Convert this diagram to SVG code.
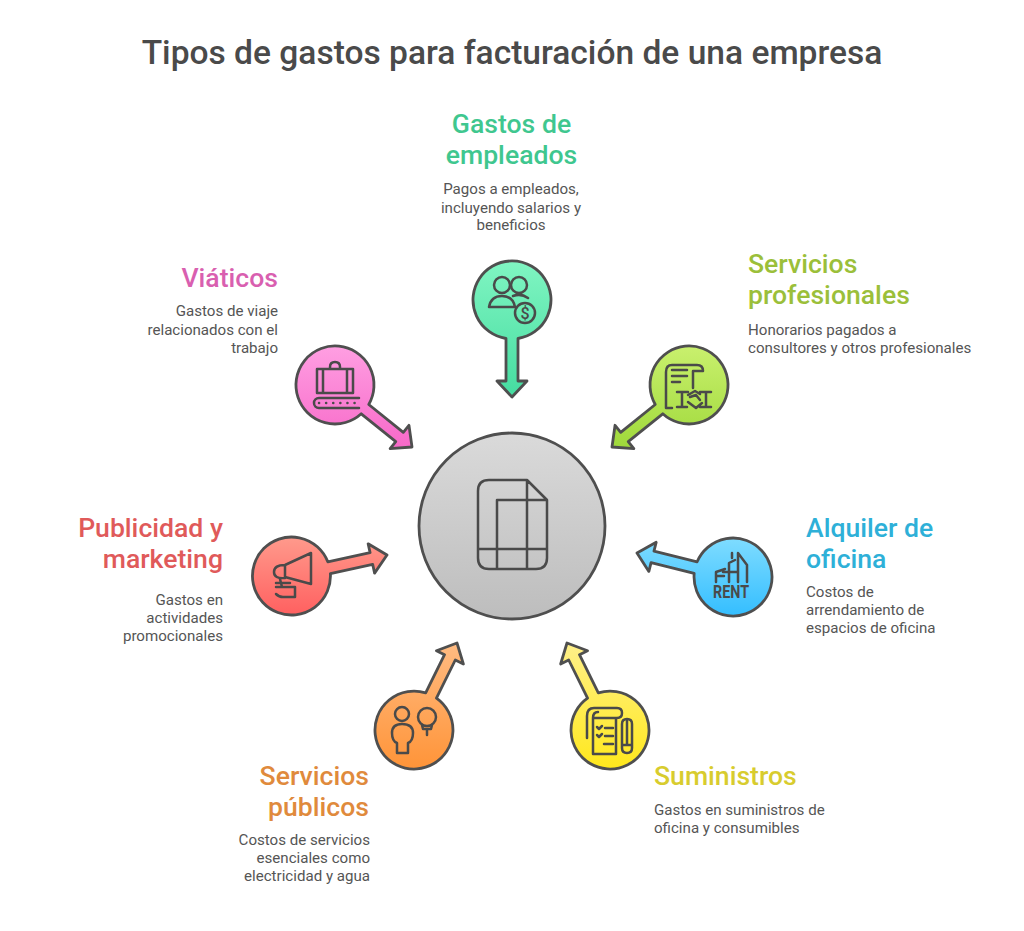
<svg xmlns="http://www.w3.org/2000/svg" width="1024" height="931" viewBox="0 0 1024 931">
<style>
text{font-family:Roboto,"Liberation Sans",sans-serif}
.title{font-size:33.55px;font-weight:500;fill:#4a4a4a;text-anchor:middle}
.h{font-size:26.6px;font-weight:500}
.b{font-size:15.1px;fill:#555555}
.m{text-anchor:middle}.e{text-anchor:end}
.s{stroke:#4f4f4f;stroke-width:2.8;stroke-linejoin:round}
.i{fill:none;stroke:#4a4a4a;stroke-width:2.5;stroke-linecap:round;stroke-linejoin:round}
</style>
<defs>
<linearGradient id="gGrey" x1="0" y1="0" x2="0" y2="1"><stop offset="0" stop-color="#dadada"/><stop offset="1" stop-color="#bdbdbd"/></linearGradient>
<linearGradient id="gGreen" x1="0" y1="0" x2="0" y2="1"><stop offset="0" stop-color="#80f5c2"/><stop offset="1" stop-color="#45dca0"/></linearGradient>
<linearGradient id="gLime" x1="0" y1="0" x2="0" y2="1"><stop offset="0" stop-color="#c9f06e"/><stop offset="1" stop-color="#9fd93a"/></linearGradient>
<linearGradient id="gPink" x1="0" y1="0" x2="0" y2="1"><stop offset="0" stop-color="#ff9fe2"/><stop offset="1" stop-color="#f768c8"/></linearGradient>
<linearGradient id="gRed" x1="0" y1="0" x2="0" y2="1"><stop offset="0" stop-color="#ff9a8c"/><stop offset="1" stop-color="#ff6060"/></linearGradient>
<linearGradient id="gBlue" x1="0" y1="0" x2="0" y2="1"><stop offset="0" stop-color="#7fdcff"/><stop offset="1" stop-color="#34beff"/></linearGradient>
<linearGradient id="gOrange" x1="0" y1="0" x2="0" y2="1"><stop offset="0" stop-color="#ffbb82"/><stop offset="1" stop-color="#ff9438"/></linearGradient>
<linearGradient id="gYellow" x1="0" y1="0" x2="0" y2="1"><stop offset="0" stop-color="#fff08a"/><stop offset="1" stop-color="#ffe81c"/></linearGradient>
</defs>
<rect width="1024" height="931" fill="#ffffff"/>
<text class="title" x="512" y="64">Tipos de gastos para facturación de una empresa</text>

<g id="connectors">
<path class="s" fill="url(#gGreen)" d="M518 338.5L518 381L527 381L512 397L497 381L506 381L506 338.5A39 39 0 1 1 518 338.5Z"/>
<path class="s" fill="url(#gLime)" d="M662.77 413.81L628.22 441.64L633.86 448.66L612 447L615.06 425.28L620.7 432.3L655.25 404.47A39 39 0 1 1 662.77 413.81Z"/>
<path class="s" fill="url(#gPink)" d="M368.75 404.47L403.3 432.3L408.95 425.28L412 447L390.13 448.66L395.78 441.64L361.23 413.81A39 39 0 1 1 368.75 404.47Z"/>
<path class="s" fill="url(#gRed)" d="M327.81 561.86L370.08 552.58L368.14 543.78L387 555L374.6 573.1L372.66 564.3L330.39 573.58A39 39 0 1 1 327.81 561.86Z"/>
<path class="s" fill="url(#gBlue)" d="M694.19 573.46L651.06 562.71L648.87 571.44L637 553L656.17 542.34L653.98 551.07L697.11 561.82A39 39 0 1 1 694.19 573.46Z"/>
<path class="s" fill="url(#gOrange)" d="M425.68 692.84L444.53 654.68L436.47 650.69L457 643L463.35 663.99L455.29 660L436.44 698.16A39 39 0 1 1 425.68 692.84Z"/>
<path class="s" fill="url(#gYellow)" d="M587.56 698.16L568.71 660L560.65 663.99L567 643L587.53 650.69L579.47 654.68L598.32 692.84A39 39 0 1 1 587.56 698.16Z"/>
</g>

<g id="center">
<circle class="s" cx="512" cy="526" r="93" fill="url(#gGrey)"/>
<path class="i" stroke-width="3" d="M527 480H489Q478 480 478 491V558Q478 569 489 569H536Q547 569 547 558V500L527 480ZM497 569V500H547M527 480V569M478 549H547"/>
</g>

<g id="empleados">
<text class="h m" x="511.5" y="133" fill="#3fc78f">Gastos de</text>
<text class="h m" x="511.5" y="164" fill="#3fc78f">empleados</text>
<text class="b m" x="511" y="194">Pagos a empleados,</text>
<text class="b m" x="511" y="213">incluyendo salarios y</text>
<text class="b m" x="511" y="230">beneficios</text>
<path class="i" d="M489 307Q491 296 502 296Q513 296 515 307ZM513 296Q521 293 528 298"/>
<circle class="i" cx="502" cy="285" r="8"/><circle class="i" cx="519" cy="285" r="8"/>
<circle class="i" cx="525" cy="313" r="10"/>
<text x="525" y="319" font-size="16" font-weight="500" fill="#4a4a4a" text-anchor="middle">$</text>
</g>

<g id="profesionales">
<text class="h" x="748" y="273" fill="#9bbf3a">Servicios</text>
<text class="h" x="748" y="304" fill="#9bbf3a">profesionales</text>
<text class="b" x="748" y="335">Honorarios pagados a</text>
<text class="b" x="748" y="353">consultores y otros profesionales</text>
<path class="i" d="M672 408H666V372Q666 365 672 365H697Q703 365 703 371H693V388M672 370H687M672 376H687M672 382H680"/>
<path class="i" d="M677 392H688M682 392V407M677 407H687M700 392H711M706 392V407M700 407H711M688 395L695 391L700 394M688 402L696 408L702 403M690 397L696 395L700 400"/>
</g>

<g id="viaticos">
<text class="h e" x="278" y="287" fill="#d95fb0">Viáticos</text>
<text class="b e" x="278" y="316">Gastos de viaje</text>
<text class="b e" x="278" y="335">relacionados con el</text>
<text class="b e" x="278" y="353">trabajo</text>
<path class="i" d="M317 369H353V393H317ZM323 369V393M347 369V393M330 369V367Q330 362 335 362Q340 362 340 367V369M359 398H319A5 5 0 0 0 319 408H359"/>
<path class="i" stroke-dasharray="0.1 7" stroke-width="3" d="M319 403H356"/>
</g>

<g id="publicidad">
<text class="h e" x="223" y="537" fill="#e05a5a">Publicidad y</text>
<text class="h e" x="223" y="568" fill="#e05a5a">marketing</text>
<text class="b e" x="223" y="605">Gastos en</text>
<text class="b e" x="223" y="623">actividades</text>
<text class="b e" x="223" y="641">promocionales</text>
<path class="i" d="M311 553V584L285 577M311 553L285 565Q274 565 274 572Q274 579 285 578V565M276 583H290M280 579L282 587M276 587H295V597H283Q279 597 276 594"/>
</g>

<g id="alquiler">
<text class="h" x="806" y="537" fill="#2eb0d8">Alquiler de</text>
<text class="h" x="806" y="568" fill="#2eb0d8">oficina</text>
<text class="b" x="806" y="597">Costos de</text>
<text class="b" x="806" y="615">arrendamiento de</text>
<text class="b" x="806" y="633">espacios de oficina</text>
<path class="i" d="M716 582V572L725 569M716 576H724M729 582V563L735 560M723 572H738M738 582V553L747 565V582M732 558V553"/>
<text x="713" y="598" font-size="18.5" font-weight="700" fill="#4a4a4a" textLength="36" lengthAdjust="spacingAndGlyphs">RENT</text>
</g>

<g id="publicos">
<text class="h e" x="369" y="785" fill="#e08a3c">Servicios</text>
<text class="h e" x="369" y="816" fill="#e08a3c">públicos</text>
<text class="b e" x="370" y="845">Costos de servicios</text>
<text class="b e" x="370" y="863">esenciales como</text>
<text class="b e" x="370" y="881">electricidad y agua</text>
<circle class="i" cx="402" cy="714" r="7"/>
<path class="i" d="M397 753V743Q392 741 392 733Q392 724 402 724Q413 724 413 733Q413 741 408 743V753Z"/>
<circle class="i" cx="427" cy="717" r="9"/>
<path class="i" d="M422 725L423 729H431L432 725M427 729V735"/>
</g>

<g id="suministros">
<text class="h" x="654" y="785" fill="#d8cc2e">Suministros</text>
<text class="b" x="654" y="815">Gastos en suministros de</text>
<text class="b" x="654" y="833">oficina y consumibles</text>
<path class="i" d="M587 738V716Q587 708 594 708H617Q622 708 622 713Q622 718 617 718H593V754H616V718M593 718Q593 712 598 712"/>
<path class="i" d="M597 727L599 729L602 726M597 735L599 737L602 734M605 728H613M605 736H613M604 744H613"/>
<path class="i" d="M622 724Q622 719 627 719Q632 719 632 724V748Q632 753 627 753Q622 753 622 748ZM627 719V745M622 745H632"/>
</g>
</svg>
